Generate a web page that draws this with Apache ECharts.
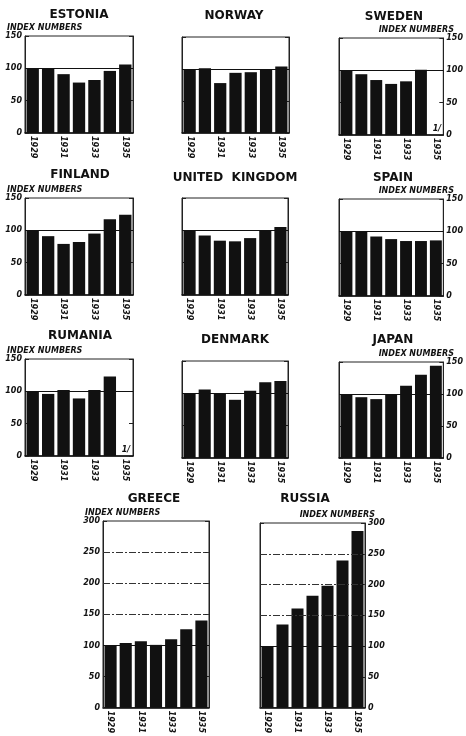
<!DOCTYPE html>
<html>
<head>
<meta charset="utf-8">
<script src="https://cdn.jsdelivr.net/npm/echarts@6/dist/echarts.min.js"></script>
<style>
  html, body { margin: 0; padding: 0; background: #fff; }
  #chart { width: 466px; height: 736px; }
</style>
</head>
<body>
<div id="chart"></div>
<script>
const years = ['1929', '1930', '1931', '1932', '1933', '1934', '1935'];

// index numbers, 1929 = 100
const estonia = [100, 100, 91, 78, 82, 96, 106];
const norway = [100, 101, 78, 94, 95, 100, 104];
const sweden = [100, 94, 85, 79, 83, 101, null];
const finland = [100, 91, 79, 82, 95, 117, 124];
const unitedKingdom = [100, 92, 84, 83, 88, 99, 105];
const spain = [100, 99, 92, 88, 85, 85, 86];
const rumania = [100, 96, 102, 89, 102, 123, null];
const denmark = [100, 106, 100, 90, 104, 117, 119];
const japan = [100, 95, 92, 100, 113, 130, 144];
const greece = [100, 104, 107, 101, 110, 126, 140];
const russia = [100, 135, 161, 182, 198, 239, 287];

const smallScale = [0, 50, 100, 150];
const bigScale = [0, 50, 100, 150, 200, 250, 300];

const INK = '#111';
const FONT = 'DejaVu Sans';

// box = [left, top, width, height], head = title centre
const panels = [
  { name: 'ESTONIA', data: estonia, scale: smallScale, side: 'left', box: [25, 36, 108, 97], head: [79, 15] },
  { name: 'NORWAY', data: norway, scale: smallScale, side: null, box: [182, 37, 107, 96], head: [234, 16] },
  { name: 'SWEDEN', data: sweden, scale: smallScale, side: 'right', box: [339, 38, 105, 97], head: [394, 17], note: true },
  { name: 'FINLAND', data: finland, scale: smallScale, side: 'left', box: [25, 198, 108, 97], head: [80, 175] },
  { name: 'UNITED  KINGDOM', data: unitedKingdom, scale: smallScale, side: null, box: [182, 198, 106, 97], head: [235, 178] },
  { name: 'SPAIN', data: spain, scale: smallScale, side: 'right', box: [339, 199, 105, 97], head: [393, 178] },
  { name: 'RUMANIA', data: rumania, scale: smallScale, side: 'left', box: [25, 359, 108, 97], head: [80, 336], note: true },
  { name: 'DENMARK', data: denmark, scale: smallScale, side: null, box: [182, 361, 106, 97], head: [235, 340] },
  { name: 'JAPAN', data: japan, scale: smallScale, side: 'right', box: [339, 362, 105, 96], head: [393, 340] },
  { name: 'GREECE', data: greece, scale: bigScale, side: 'left', box: [103, 521, 106, 193], head: [154, 499] },
  { name: 'RUSSIA', data: russia, scale: bigScale, side: 'right', box: [260, 523, 105, 191], head: [305, 499] }
];

const grid = [];
const xAxis = [];
const yAxis = [];
const series = [];
const graphic = [];

panels.forEach((p, i) => {
  const [left, top, width, height] = p.box;
  const min = p.scale[0];
  const max = p.scale[p.scale.length - 1];
  const interval = p.scale[1] - p.scale[0];

  grid.push({ left, top, width, height, show: true, borderColor: '#222', borderWidth: 1 });

  xAxis.push({
    type: 'category',
    gridIndex: i,
    data: years,
    axisTick: { show: false },
    axisLine: { lineStyle: { color: INK, width: 1.5 } },
    axisLabel: {
      interval: 1,
      rotate: -90,
      margin: 3,
      color: INK,
      fontFamily: FONT,
      fontSize: 8,
      fontStyle: 'italic',
      fontWeight: 'bold'
    }
  });

  const mainSide = p.side || 'left';
  [mainSide, mainSide === 'left' ? 'right' : 'left'].forEach((pos, k) => {
    yAxis.push({
      type: 'value',
      gridIndex: i,
      position: pos,
      min, max, interval,
      axisLine: { show: true, lineStyle: { color: '#222', width: 1 } },
      axisTick: { show: true, inside: true, length: 4, lineStyle: { color: '#222' } },
      splitLine: { show: false },
      axisLabel: {
        show: k === 0 && !!p.side,
        margin: 3,
        color: INK,
        fontFamily: FONT,
        fontSize: 8,
        fontStyle: 'italic',
        fontWeight: 'bold'
      }
    });
  });

  const lines = p.scale
    .filter(v => v >= 100 && v < max)
    .map(v => ({
      yAxis: v,
      lineStyle: v === 100
        ? { color: INK, width: 1.2, type: 'solid' }
        : { color: '#333', width: 1, type: [7, 2, 2, 2] }
    }));

  series.push({
    type: 'bar',
    name: p.name,
    xAxisIndex: i,
    yAxisIndex: i * 2,
    data: p.data,
    barCategoryGap: '20%',
    itemStyle: { color: INK },
    markLine: { symbol: ['none', 'none'], silent: true, label: { show: false }, data: lines }
  });

  graphic.push({
    type: 'text',
    x: p.head[0],
    y: p.head[1],
    style: {
      text: p.name,
      fill: INK,
      font: 'bold 12px "' + FONT + '"',
      align: 'center',
      verticalAlign: 'middle'
    }
  });

  if (p.side) {
    const leftSide = p.side === 'left';
    graphic.push({
      type: 'text',
      x: leftSide ? left - 18 : left + width + 10,
      y: top - 8,
      style: {
        text: 'INDEX NUMBERS',
        fill: INK,
        font: 'italic bold 8px "' + FONT + '"',
        align: leftSide ? 'left' : 'right',
        verticalAlign: 'middle'
      }
    });
  }

  if (p.note) {
    graphic.push({
      type: 'text',
      x: left + width - 7,
      y: top + height - 6,
      style: {
        text: '1/',
        fill: INK,
        font: 'italic bold 8px "' + FONT + '"',
        align: 'center',
        verticalAlign: 'middle'
      }
    });
  }
});

const chart = echarts.init(document.getElementById('chart'));
chart.setOption({
  animation: false,
  backgroundColor: '#fff',
  grid,
  xAxis,
  yAxis,
  series,
  graphic
});
</script>
</body>
</html>
